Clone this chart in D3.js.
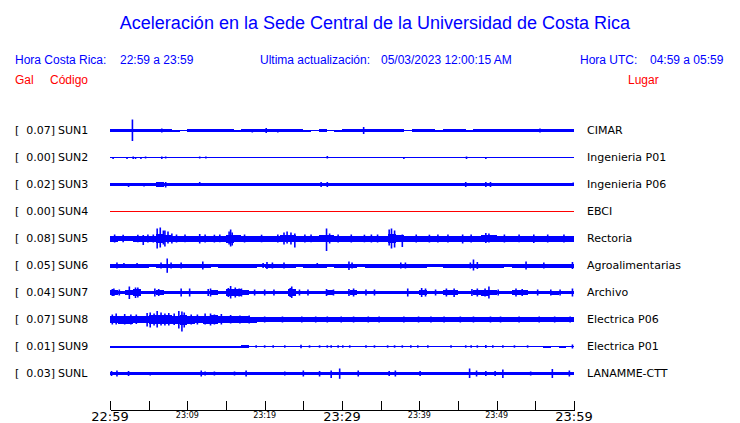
<!DOCTYPE html>
<html><head><meta charset="utf-8">
<script src="https://cdn.jsdelivr.net/npm/d3@7"></script>
<style>
html,body{margin:0;padding:0;background:#fff;}
svg{display:block;}
</style></head>
<body>
<svg id="c" width="740" height="423"></svg>
<script>
// ---------- DATA ----------
const title = "Aceleración en la Sede Central de la Universidad de Costa Rica";
const localRange = "22:59 a 23:59";
const utcRange = "04:59 a 05:59";
const updated = "05/03/2023 12:00:15 AM";

const codes = ["SUN1","SUN2","SUN3","SUN4","SUN5","SUN6","SUN7","SUN8","SUN9","SUNL"];
const places = ["CIMAR","Ingenieria P01","Ingenieria P06","EBCI","Rectoria","Agroalimentarias","Archivo","Electrica P06","Electrica P01","LANAMME-CTT"];
const peaks = [0.07,0.00,0.02,0.00,0.08,0.05,0.04,0.07,0.01,0.03];
const traceColor = ["blue","blue","blue","red","blue","blue","blue","blue","blue","blue"];

// per-minute envelope half-amplitude (relative units), minutes 0..59 after 22:59
const env_SUN1 = [1.2,1.3,1.3,1.3,1.3,1.3,1.3,1.3,1.0,0.8, 1.3,1.3,1.3,1.3,1.3,1.3,1.0,1.2,1.3,1.3, 1.3,1.3,1.3,1.3,1.3,1.0,0.6,1.3,0.8,1.0, 1.3,1.3,1.5,1.3,1.3,1.3,1.2,1.2,0.8,1.2, 1.1,1.1,1.0,1.3,1.3,1.3,1.0,1.3,1.3,1.1, 1.1,1.3,1.3,1.2,1.1,1.3,1.3,1.3,1.2,1.2];
const env_SUN2 = [0.5,0.5,0.5,0.5,0.5,0.5,0.5,0.5,0.5,0.5, 0.5,0.5,0.5,0.5,0.5,0.5,0.5,0.5,0.5,0.5, 0.5,0.5,0.5,0.5,0.5,0.5,0.5,0.5,0.5,0.5, 0.5,0.5,0.5,0.5,0.5,0.5,0.5,0.5,0.5,0.5, 0.5,0.5,0.5,0.5,0.5,0.5,0.5,0.5,0.5,0.5, 0.5,0.5,0.5,0.5,0.5,0.5,0.5,0.5,0.5,0.5];
const env_SUN3 = [1.6,1.6,1.6,1.6,1.6,1.6,2.1,1.9,1.6,1.6, 1.6,1.6,1.6,1.6,1.6,1.6,1.6,1.6,1.6,1.6, 1.6,1.6,1.6,1.6,1.6,1.6,1.6,1.6,1.6,1.6, 1.6,1.6,1.6,1.6,1.6,1.6,1.6,1.6,1.6,1.6, 1.6,1.6,1.6,1.6,1.6,1.6,1.6,1.6,1.6,1.6, 1.6,1.6,1.6,1.5,1.6,1.6,1.6,1.6,1.6,1.6];
const env_SUN4 = [0.5,0.5,0.5,0.5,0.5,0.5,0.5,0.5,0.5,0.5, 0.5,0.5,0.5,0.5,0.5,0.5,0.5,0.5,0.5,0.5, 0.5,0.5,0.5,0.5,0.5,0.5,0.5,0.5,0.5,0.5, 0.5,0.5,0.5,0.5,0.5,0.5,0.5,0.5,0.5,0.5, 0.5,0.5,0.5,0.5,0.5,0.5,0.5,0.5,0.5,0.5, 0.5,0.5,0.5,0.5,0.5,0.5,0.5,0.5,0.5,0.5];
const env_SUN5 = [3.0,2.8,2.8,3.0,3.0,3.0,4.2,3.8,3.0,3.0, 3.0,3.0,3.0,3.0,3.0,4.0,3.3,3.0,3.0,3.0, 3.0,3.0,3.8,3.8,3.0,3.0,3.0,3.8,3.5,3.0, 3.0,3.0,3.0,3.0,3.0,3.0,4.2,3.5,3.0,3.0, 3.0,3.0,3.0,3.0,3.0,3.0,3.0,3.0,3.8,3.5, 3.0,3.0,3.0,3.0,3.0,3.0,3.0,3.0,3.0,3.0];
const env_SUN6 = [2.0,2.0,2.0,2.0,2.0,1.3,2.0,2.0,2.0,2.0, 2.0,2.0,2.0,1.5,2.0,2.0,2.0,2.0,2.0,1.3, 2.0,2.0,2.0,2.0,1.3,2.0,2.0,2.0,1.3,2.0, 2.0,2.0,1.6,2.0,2.0,2.0,2.0,2.0,2.0,2.0, 2.0,1.3,1.5,2.0,2.0,2.0,2.0,2.0,2.0,2.0, 2.0,1.5,2.0,2.0,2.0,2.0,2.0,2.0,2.0,2.0];
const env_SUN7 = [2.8,1.8,2.2,3.5,1.8,1.8,2.5,1.8,1.8,1.8, 1.8,1.8,1.8,2.5,1.8,3.5,3.2,2.2,1.8,1.8, 1.8,1.8,1.8,3.2,1.8,1.8,1.8,1.8,2.2,1.8, 1.8,2.2,1.8,1.8,1.8,1.8,1.8,1.8,1.8,1.8, 2.8,1.8,1.8,2.2,2.5,1.8,1.8,2.2,3.0,2.5, 1.8,1.8,2.2,2.2,1.8,1.8,1.8,2.0,1.8,1.8];
const env_SUN8 = [3.8,4.0,4.0,3.8,3.8,4.5,4.5,4.2,4.0,5.0, 4.0,3.8,4.0,4.2,3.8,3.2,3.2,3.2,3.0,2.5, 2.2,2.2,2.2,2.2,2.2,2.2,2.2,2.2,2.4,2.2, 2.4,2.4,2.2,2.2,2.2,2.2,2.2,2.2,2.2,2.2, 2.2,2.2,2.2,2.2,2.2,2.2,2.2,2.2,2.2,2.2, 2.2,2.2,2.4,2.4,2.2,2.2,2.2,2.4,2.4,2.4];
const env_SUN9 = [1.0,1.0,1.0,1.0,1.0,1.0,1.0,1.0,1.0,1.0, 1.0,1.0,1.0,1.0,1.0,1.0,1.0,1.2,0.8,0.5, 0.5,0.5,0.5,0.5,0.8,0.5,0.5,0.5,0.5,0.5, 0.5,0.5,0.5,0.5,0.5,0.5,0.5,0.5,0.5,0.5, 0.5,0.5,0.5,0.5,0.5,0.5,0.5,0.5,0.5,0.5, 0.5,0.5,0.5,0.5,0.5,0.5,1.0,0.8,1.0,0.8];
const env_SUNL = [1.8,1.8,1.8,1.8,1.8,1.8,1.8,1.8,1.8,1.8, 1.8,1.8,1.8,1.8,1.8,1.8,1.8,1.8,1.8,1.8, 1.8,1.8,1.8,1.5,1.8,1.8,1.8,1.8,1.8,1.8, 1.8,1.8,1.8,1.8,1.8,1.8,1.8,1.8,1.8,1.8, 1.8,1.3,1.8,1.8,1.8,1.8,1.8,1.8,1.8,1.8, 1.8,1.8,1.8,1.8,1.8,1.8,1.8,1.8,1.8,1.8];

// spikes: [minute, amplitude up, amplitude down]
const spk_SUN1 = [[1.5,1.5,1.5],[2.9,11,10.5],[6.7,2,2],[18.4,1.5,2],[20.2,2.5,2.5],[21.7,1.5,2],[32.8,3.5,3.5],[51.3,1.5,1.5],[55.6,2,2]];
const spk_SUN2 = [[0.4,0,1.5],[2.2,0,1.5],[3.0,1,1.5],[3.3,0.5,1.5],[4.0,0,1.5],[4.6,1,1],[6.7,1,1.5],[7.2,1,1],[11.6,1,1],[12.4,1,1],[28.1,1.5,1],[38.0,0,1.5],[46.1,1,1.5],[48.6,0,1.5]];
const spk_SUN3 = [[2.4,0,2.5],[4.4,0,2],[6.15,2.5,2.5],[6.6,2.5,2.5],[6.85,2,2],[7.2,2.5,3],[11.6,2.5,1],[27.3,2.5,2.5],[28.1,2.5,2.5],[46.0,2.5,2.5],[48.6,2.5,2.5],[49.2,2.5,2.5],[59.9,2,1.5]];
const spk_SUN4 = [];
const spk_SUN5 = [[0.6,4,4],[1.7,3.8,3.8],[3.6,3.8,3.8],[4.3,3.5,6.5],[4.9,4,4],[5.6,4,4],[6.1,10,10],[6.5,11,9],[6.9,8,6],[7.1,8,8],[7.5,7,5],[8.0,5,5],[8.6,4,4],[9.7,4,3.8],[11.6,4.5,5],[12.3,4,4],[13.5,3.8,4],[14.2,4,3.8],[15.4,7,6],[15.6,9,8],[15.8,6,7],[17.4,4,4],[19.6,3.8,3.8],[21.7,4,4],[22.5,6,6],[22.9,7,5],[23.4,6,6],[23.9,5,9],[25.2,4,4],[26.0,4,3.8],[28.0,10,12.5],[28.4,5,5],[29.5,4,4],[31.2,4,4],[32.9,3.8,3.8],[33.8,4,4],[34.6,4,4],[36.1,9,7],[36.4,10,10],[36.8,8,9],[37.8,4,8.5],[39.6,4,4],[41.3,3.8,4],[42.4,4,4],[43.7,4,4],[45.6,4,5],[46.7,4,4],[48.6,5.5,4.5],[49.0,5,4],[51.0,4,4],[52.9,4,3.8],[54.8,4,4.5],[56.6,4,4],[58.7,4,4]];
const spk_SUN6 = [[0.9,3,3],[1.8,2.5,2.5],[3.5,2.5,2.5],[6.6,3,3],[7.4,7,7.3],[7.9,3,3],[9.2,3,3],[12.0,4,4],[19.8,2.5,2.5],[20.3,3.5,3.5],[21.0,3,3],[22.5,3,3],[26.8,2.5,2.5],[30.9,4,4.5],[31.3,3,3],[37.6,3,3],[38.2,3,3],[46.6,3,3],[47.0,6,5],[47.5,3.5,3.5],[53.8,4,4],[56.1,3,3],[59.8,3.5,3.5]];
const spk_SUN7 = [[0.3,3.5,3.5],[0.5,4,3.5],[1.2,3,3],[2.5,6,6.5],[3.3,5,5.5],[3.6,5,5],[5.8,4,4],[6.3,3.5,3.5],[9.2,4,4],[10.3,4,4],[12.7,3.5,3.5],[13.0,4,4],[15.3,4.5,4.5],[15.6,6.5,6],[16.2,5,5],[16.7,4,4],[17.0,4,4],[18.7,3,3],[20.0,3,3],[21.2,3,3],[23.3,4.5,4.5],[23.5,6,5.5],[24.5,3,3],[25.6,3,3],[28.0,3.5,3.5],[28.9,3,3],[30.9,3.5,3.5],[31.5,4,4],[33.1,3,3],[34.2,3,3],[38.5,4,4],[40.3,4.5,4.5],[40.8,4,4],[42.1,3,3],[43.5,4,4],[44.5,4,4.5],[46.8,3.5,3.5],[47.5,4,4],[48.5,4,4],[49.0,6,6],[50.2,3,3],[52.5,4,4],[53.3,3.5,3.5],[55.3,3,3],[57.0,3,3],[58.2,3,3],[59.8,4,4]];
const spk_SUN8 = [[0.3,5,5],[0.8,6,5],[1.9,5.5,5],[2.7,5,5],[3.4,5,4.5],[4.8,6.5,7],[5.2,7,8],[5.7,6,6],[6.1,8.5,8],[6.6,7,6],[7.1,6,6],[7.6,6.5,6],[8.3,6,5.5],[8.9,8.5,9],[9.3,8,12],[9.6,7,8],[10.5,5,5],[11.3,5,5],[12.3,6,5],[13.0,6,6],[13.5,5,5],[14.4,5.5,5],[15.6,4.5,4],[16.8,4,4],[18.0,4,4],[20.0,3,3],[22.3,3,3],[24.8,3,3],[26.6,3,3],[28.1,3,3],[29.9,3,3],[31.5,3,3],[33.4,3,3],[34.8,3,3],[38.0,3,3],[39.9,3,3],[41.5,3,3],[43.2,3,3],[45.3,3,3],[47.0,3,3],[49.2,3,3],[50.5,3,3],[52.9,3,3],[55.5,3,3],[57.5,3,3],[59.5,3,3]];
const spk_SUN9 = [[18.9,1.2,1.2],[20.0,1.2,1.2],[21.1,1.2,1.2],[22.6,1.2,1.2],[24.7,1.8,1.8],[25.8,1.2,1.2],[27.1,1.2,1.2],[28.1,1.2,1.2],[28.6,1.2,1.2],[29.5,1.2,1.2],[30.1,1.2,1.2],[31.0,1.2,1.2],[33.1,1.2,1.2],[34.2,1.2,1.2],[35.9,1.2,1.2],[36.8,1.2,1.2],[37.8,1.2,1.2],[38.9,1.2,1.2],[39.8,1.2,1.2],[41.1,1.2,1.2],[44.1,1.2,1.2],[46.0,1.2,1.2],[46.7,1.2,1.2],[47.5,1.2,1.2],[48.6,1.5,1.5],[49.5,1.2,1.2],[50.8,1.2,1.2],[52.3,1.2,1.2],[54.0,1.2,1.2],[59.8,2,2]];
const spk_SUNL = [[0.2,2.5,2.5],[0.9,3,3],[2.4,2.5,2.5],[5.2,1,2],[11.8,3,3],[12.3,2,2],[13.5,2,2],[16.1,2,2],[17.6,3,3],[22.6,2,2],[25.0,3,3],[27.1,2.5,3],[28.6,3,4.5],[29.7,5,5.3],[32.1,3,3],[36.1,2.5,2.5],[36.9,3,3],[40.1,2.5,2.5],[46.5,5,4.5],[47.4,3,3],[48.6,2.5,2.5],[49.8,2.5,2.5],[50.8,4,4.5],[54.4,2,2],[57.2,4.5,4.5],[59.4,3,3]];

const envelopes = [env_SUN1,env_SUN2,env_SUN3,env_SUN4,env_SUN5,env_SUN6,env_SUN7,env_SUN8,env_SUN9,env_SUNL];
const spikes = [spk_SUN1,spk_SUN2,spk_SUN3,spk_SUN4,spk_SUN5,spk_SUN6,spk_SUN7,spk_SUN8,spk_SUN9,spk_SUNL];

const tickMinutes = [0,5,10,15,20,25,30,35,40,45,50,55,60];
const labelMinutes = [0,10,20,30,40,50,60];
const tickLabels = ["22:59","23:09","23:19","23:29","23:39","23:49","23:59"];
const bigLabels = ["22:59","23:29","23:59"];

// ---------- DRAW ----------
const svg = d3.select("#c");
const x = d3.scaleLinear().domain([0,60]).range([110,574]);
const y = d3.scalePoint().domain(codes).range([130.5,373.5]);
const amp = d3.scaleLinear().domain([0,10]).range([0,10]);

const headFont = "'Liberation Sans', Arial, sans-serif";
const bodyFont = "'DejaVu Sans', sans-serif";

svg.append("text").attr("x",375).attr("y",29).attr("text-anchor","middle")
  .attr("font-family",headFont).attr("font-size",18).attr("fill","#0000ff").text(title);

const hdr = [
  {t:"Hora Costa Rica:", x:15, c:"#0000ff", y:64},
  {t:localRange, x:120, c:"#0000ff", y:64},
  {t:"Ultima actualización:", x:260, c:"#0000ff", y:64},
  {t:updated, x:381, c:"#0000ff", y:64},
  {t:"Hora UTC:", x:580, c:"#0000ff", y:64},
  {t:utcRange, x:650, c:"#0000ff", y:64},
  {t:"Gal", x:15, c:"#ff0000", y:84},
  {t:"Código", x:50, c:"#ff0000", y:84},
  {t:"Lugar", x:628, c:"#ff0000", y:84}
];
svg.selectAll("text.hdr").data(hdr).join("text").attr("class","hdr")
  .attr("x",d=>d.x).attr("y",d=>d.y).attr("fill",d=>d.c)
  .attr("font-family",headFont).attr("font-size",12).text(d=>d.t);

// rows
const rows = svg.selectAll("g.row").data(codes).join("g").attr("class","row");
const fs = 11;
rows.append("text").attr("x",15).attr("y",c=>y(c)+3.5)
  .attr("font-family",bodyFont).attr("font-size",fs).attr("fill","#000").text("[");
rows.append("text").attr("x",55).attr("y",c=>y(c)+3.5).attr("text-anchor","end")
  .attr("font-family",bodyFont).attr("font-size",fs).attr("fill","#000")
  .text((c,i)=>peaks[i].toFixed(2)+"]");
rows.append("text").attr("x",58).attr("y",c=>y(c)+3.5)
  .attr("font-family",bodyFont).attr("font-size",fs).attr("fill","#000").text(c=>c);
rows.append("text").attr("x",587).attr("y",c=>y(c)+3.5)
  .attr("font-family",bodyFont).attr("font-size",fs).attr("fill","#000").text((c,i)=>places[i]);

const area = d3.area().curve(d3.curveStepAfter).x(d=>x(d.t));

rows.each(function(code,i){
  const g = d3.select(this);
  const cy = y(code);
  const col = traceColor[i];
  const env = envelopes[i];
  const pts = env.map((a,k)=>({t:k,a})).concat([{t:60,a:env[env.length-1]}]);
  g.append("path").datum(pts)
    .attr("d", area.y0(d=>cy+amp(d.a)).y1(d=>cy-amp(d.a)))
    .attr("fill",col).attr("shape-rendering","crispEdges");
  g.append("line").attr("x1",x(0)).attr("x2",x(60)).attr("y1",cy).attr("y2",cy)
    .attr("stroke",col).attr("stroke-width",1).attr("shape-rendering","crispEdges");
  g.selectAll("line.spk").data(spikes[i]).join("line").attr("class","spk")
    .attr("x1",d=>x(d[0])).attr("x2",d=>x(d[0]))
    .attr("y1",d=>cy-amp(d[1])).attr("y2",d=>cy+amp(d[2]))
    .attr("stroke",col).attr("stroke-width",1.6);
});

// axis
const axis = d3.axisTop(x).tickValues(tickMinutes).tickSize(9).tickSizeOuter(0).tickFormat("");
const ax = svg.append("g").attr("transform","translate(0,409.5)").call(axis);
ax.select(".domain").attr("stroke","#000").attr("shape-rendering","crispEdges");
ax.selectAll(".tick line").attr("stroke","#000").attr("shape-rendering","crispEdges");

svg.selectAll("text.tl").data(labelMinutes).join("text").attr("class","tl")
  .attr("x",d=>x(d)).attr("text-anchor","middle")
  .attr("y",(d,i)=>bigLabels.includes(tickLabels[i])?421:418)
  .attr("font-family",bodyFont)
  .attr("font-size",(d,i)=>bigLabels.includes(tickLabels[i])?13:8)
  .attr("fill","#000").text((d,i)=>tickLabels[i]);
</script>
</body></html>
